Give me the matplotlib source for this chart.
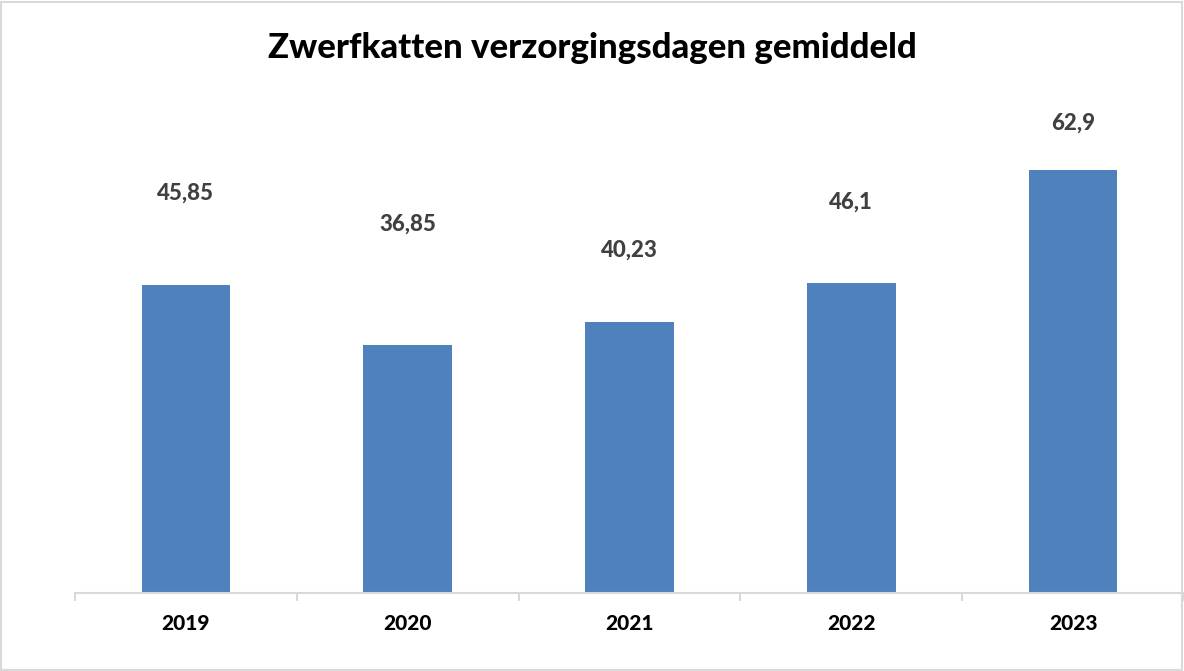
import matplotlib.pyplot as plt
import numpy as np

years = ['2019', '2020', '2021', '2022', '2023']
values = [45.85, 36.85, 40.23, 46.1, 62.9]
labels = ['45,85', '36,85', '40,23', '46,1', '62,9']
# label offsets above the bar top (points), labels sit loose as in original
label_offsets = [66, 87, 52, 58, 34]

plt.rcParams['font.family'] = ['Lato', 'DejaVu Sans']

fig = plt.figure(figsize=(11.84, 6.71), dpi=100)
ax = fig.add_axes([75 / 1184, 78 / 671, 1 - 75 / 1184, 538 / 671])

x = np.arange(len(years))
ax.bar(x, values, width=0.4, color='#4F81BD')

for xi, v, lab, off in zip(x, values, labels, label_offsets):
    ax.annotate(lab, (xi, v), xytext=(0, off), textcoords='offset points',
                ha='center', va='center', fontsize=16, fontweight='black',
                color='#404040')

ax.set_xlim(-0.5, 4.5)
ax.set_ylim(0, 80)
ax.set_yticks([])
ax.set_xticks(x)
ax.set_xticklabels(years, fontsize=15, fontweight='black')
ax.set_xticks(np.arange(-0.5, 5, 1), minor=True)
ax.tick_params(axis='x', which='major', length=0, pad=15)
ax.tick_params(axis='x', which='minor', length=6, width=1.5, color='#D9D9D9')
for s in ['top', 'right', 'left']:
    ax.spines[s].set_visible(False)
ax.spines['bottom'].set_color('#D9D9D9')
ax.spines['bottom'].set_linewidth(1.5)

fig.text(0.5, 1 - 48 / 671, 'Zwerfkatten verzorgingsdagen gemiddeld',
         ha='center', va='center', fontsize=25, fontweight='black')

fig.patches.append(plt.Rectangle((0.001, 0.002), 0.997, 0.995, transform=fig.transFigure,
                                 fill=False, edgecolor='#D9D9D9', linewidth=1.5))

fig.savefig('out.png', dpi=100)
